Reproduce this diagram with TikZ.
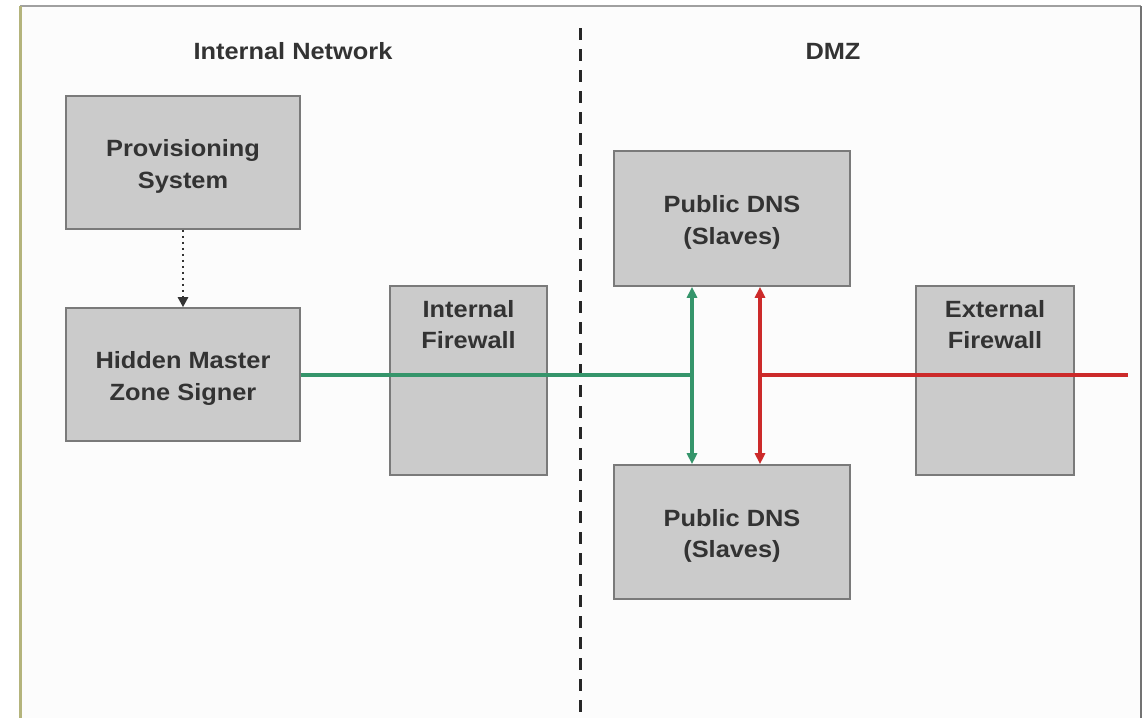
\documentclass[tikz,border=0pt]{standalone}
\usepackage{fontspec}
\setmainfont{Liberation Sans}[FakeStretch=1.08]
\usetikzlibrary{arrows.meta}
\definecolor{boxfill}{HTML}{CBCBCB}
\definecolor{boxline}{HTML}{7A7A7A}
\definecolor{txt}{HTML}{333333}
\definecolor{linkgreen}{HTML}{35956B}
\definecolor{linkred}{HTML}{CC2A2A}
\definecolor{frameolive}{HTML}{B4B47C}
\definecolor{framegray}{HTML}{A0A0A0}
% two centred lines, set slightly below the box centre
\newcommand{\twolines}[2]{\raisebox{-3.5pt}[\height][\depth]{\begin{tabular}{@{}c@{}}#1\\#2\end{tabular}}}
\tikzset{
  lbl/.style={font=\bfseries\fontsize{23.5}{31.5}\selectfont, text=txt, align=center, inner sep=0pt},
  box/.style={draw=boxline, line width=1.6pt, fill=boxfill, text=txt, inner sep=0pt,
    font=\bfseries\fontsize{23.5}{31.5}\selectfont},
  greenlink/.style={draw=linkgreen, line width=3.2pt},
  redlink/.style={draw=linkred, line width=3.2pt},
  tip/.style={-{Triangle[length=10pt,width=10pt]}},
  twotip/.style={{Triangle[length=11pt,width=10pt]}-{Triangle[length=11pt,width=10pt]}},
  zoneline/.style={draw=black!85, line width=3pt, dash pattern=on 12pt off 9pt},
  feed/.style={draw=black!80, line width=2.4pt, dash pattern=on 2.5pt off 3.5pt}
}
\begin{document}
\begin{tikzpicture}[x=1pt,y=-1pt]
  \useasboundingbox (0,0) rectangle (1148,718);
  \fill[white] (0,0) rectangle (1148,718);
  \fill[black!1] (21,7) rectangle (1140,718);

  % outer frame
  \draw[framegray, line width=2.5pt] (20,6) -- (1141,6);
  \draw[black!55, line width=1.8pt] (1141,6) -- (1141,718);
  \draw[frameolive, line width=3pt] (20.5,6) -- (20.5,718);

  % zone titles and divider
  \node[lbl] (tin) at (293,51) {Internal Network};
  \node[lbl] (tdmz) at (833,51) {DMZ};
  \coordinate (divtop) at (580,28);
  \coordinate (divbot) at (580,718);
  \draw[zoneline] (divtop) -- (divbot);

  % boxes
  \node[box, minimum width=234pt, minimum height=133pt] (prov) at (183,162.5) {\twolines{Provisioning}{System}};
  \node[box, minimum width=234pt, minimum height=133pt] (hidden) at (183,374.5) {\twolines{Hidden Master}{Zone Signer}};
  \node[box, minimum width=157pt, minimum height=189pt] (ifw) at (468.5,380.5) {};
  \node[lbl, anchor=north] (ifwt) at (468.5,300) {Internal\\Firewall};
  \node[box, minimum width=236pt, minimum height=135pt] (dns1) at (732,218.5) {\twolines{Public DNS}{(Slaves)}};
  \node[box, minimum width=236pt, minimum height=134pt] (dns2) at (732,532) {\twolines{Public DNS}{(Slaves)}};
  \node[box, minimum width=158pt, minimum height=189pt] (efw) at (995,380.5) {};
  \node[lbl, anchor=north] (efwt) at (995,300) {External\\Firewall};

  % provisioning feed
  \draw[feed, tip] (prov.south) -- (hidden.north);

  % internal transfer path
  \coordinate (gj) at (692,375);
  \draw[greenlink] (hidden.east |- gj) -- (gj);
  \draw[greenlink, twotip] (dns1.south -| gj) -- (dns2.north -| gj);

  % external query path
  \coordinate (rj) at (760,375);
  \coordinate (rout) at (1128,375);
  \draw[redlink] (rj) -- (rout);
  \draw[redlink, twotip] (dns1.south -| rj) -- (dns2.north -| rj);
\end{tikzpicture}
\end{document}
